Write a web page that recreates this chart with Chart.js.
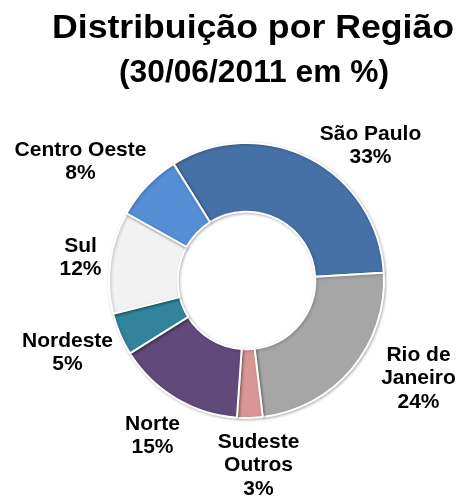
<!DOCTYPE html>
<html lang="pt">
<head>
<meta charset="UTF-8">
<title>Distribuição por Região</title>
<script src="https://cdn.jsdelivr.net/npm/chart.js"></script>
<style>
  html, body { margin: 0; padding: 0; background: #fff; }
  #wrap { width: 459px; height: 497px; }
</style>
</head>
<body>
<div id="wrap"><canvas id="chart" width="459" height="497"></canvas></div>
<script>
// Data (30/06/2011, %)
const regions = [['São Paulo'], ['Rio de', 'Janeiro'], ['Sudeste', 'Outros'], ['Norte'], ['Nordeste'], ['Sul'], ['Centro Oeste']];
const shares = [33, 24, 3, 15, 5, 12, 8];
const sliceColors = ['#4571a6', '#a6a6a6', '#d99694', '#604a7b', '#31849b', '#f2f2f2', '#558ed5'];

// where each label block sits, relative to the doughnut centre (px)
const labelOffsets = [[124, -135], [172, 98], [12, 185], [-94, 155], [-179, 72], [-166, -23], [-166, -119]];

const titleLines = ['Distribuição por Região', '(30/06/2011 em %)'];

// draws title text squeezed/stretched to a given width
function stretchedText(ctx, text, x, y, size, width) {
  ctx.font = 'bold ' + size + 'px "Liberation Sans", Arial, sans-serif';
  const w = ctx.measureText(text).width;
  ctx.save();
  ctx.translate(x, y);
  ctx.scale(width / w, 1);
  ctx.textAlign = 'center';
  ctx.textBaseline = 'alphabetic';
  ctx.fillText(text, 0, 0);
  ctx.restore();
}

const textPlugin = {
  id: 'textPlugin',
  beforeDatasetsDraw(chart) {
    const ctx = chart.ctx;
    ctx.save();
    ctx.shadowColor = 'rgba(0,0,0,0.25)';
    ctx.shadowBlur = 3;
    ctx.shadowOffsetX = 1;
    ctx.shadowOffsetY = 1;
  },
  afterDatasetsDraw(chart) {
    const ctx = chart.ctx;
    ctx.restore();
    const arcs = chart.getDatasetMeta(0).data;
    const cx = arcs[0].x, cy = arcs[0].y;
    ctx.save();
    ctx.fillStyle = '#000';
    ctx.font = 'bold 21px "Liberation Sans", Arial, sans-serif';
    ctx.textAlign = 'center';
    ctx.textBaseline = 'middle';
    const lh = 23.5;
    regions.forEach((lines, i) => {
      const all = lines.concat([shares[i] + '%']);
      const x = cx + labelOffsets[i][0];
      const y0 = cy + labelOffsets[i][1] - (all.length - 1) * lh / 2;
      all.forEach((t, j) => ctx.fillText(t, x, y0 + j * lh));
    });
    stretchedText(ctx, titleLines[0], 253, 38, 33, 402);
    stretchedText(ctx, titleLines[1], 254, 82, 31, 270);
    ctx.restore();
  }
};

new Chart(document.getElementById('chart'), {
  type: 'doughnut',
  data: {
    labels: regions,
    datasets: [{
      data: shares,
      backgroundColor: sliceColors,
      borderColor: '#ffffff',
      borderWidth: 2
    }]
  },
  options: {
    responsive: false,
    animation: false,
    rotation: -32,
    cutout: '50%',
    layout: { padding: { left: 108, right: 74, top: 142, bottom: 78 } },
    plugins: {
      legend: { display: false },
      tooltip: { enabled: false },
      title: { display: false }
    }
  },
  plugins: [textPlugin]
});
</script>
</body>
</html>
